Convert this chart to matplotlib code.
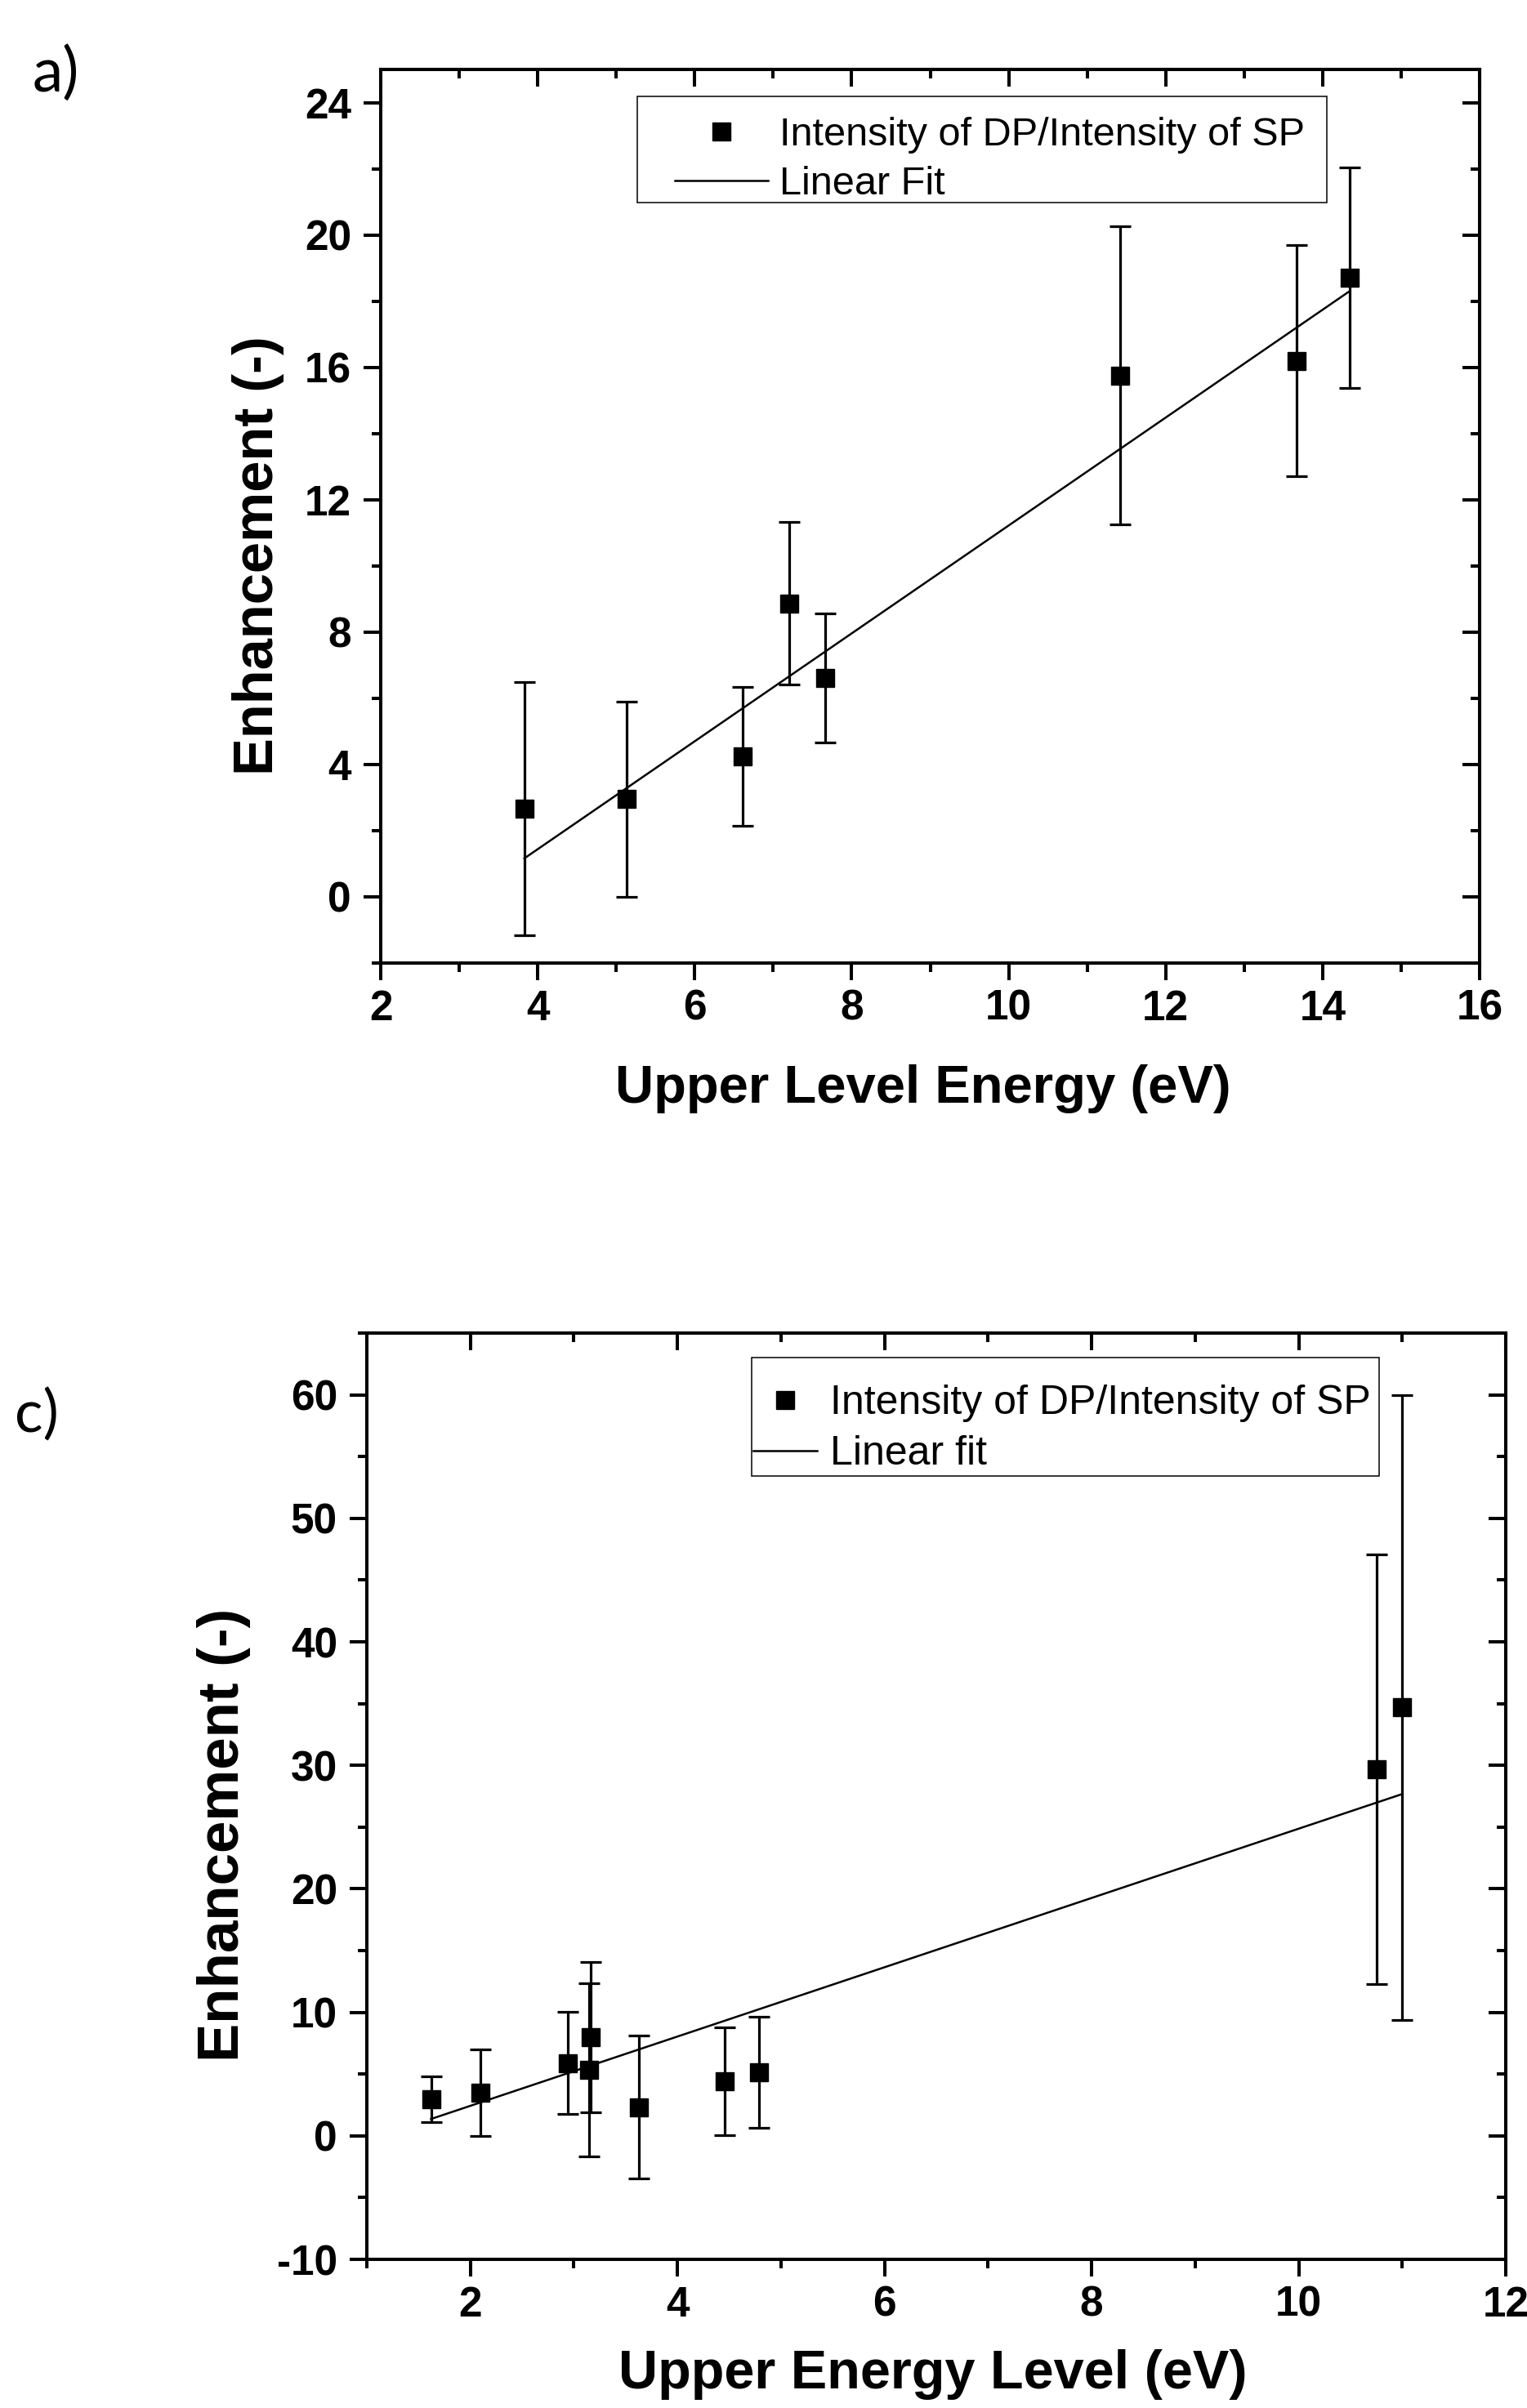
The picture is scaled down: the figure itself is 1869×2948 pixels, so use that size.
import matplotlib
matplotlib.use('Agg')
import matplotlib.pyplot as plt
from matplotlib.patches import Rectangle
from matplotlib.ticker import MultipleLocator, NullFormatter

# ------------Data: panel a)---------------------------------------
energy_a = [3.83, 5.13, 6.61, 7.20, 7.66, 11.42, 13.67, 14.35]
enh_a = [2.67, 2.95, 4.25, 8.87, 6.62, 15.75, 16.20, 18.70]
err_a = [3.82, 2.95, 2.10, 2.45, 1.95, 4.50, 3.50, 3.33]
fit_a = (1.63, -5.08)   # slope, intercept

# ------------Data: panel c)---------------------------------------
energy_c = [1.62, 2.10, 2.94, 3.15, 3.16, 3.63, 4.46, 4.79, 10.75, 11.00]
enh_c = [2.95, 3.47, 5.90, 5.34, 8.00, 2.33, 4.43, 5.17, 29.70, 34.70]
err_c = [1.85, 3.50, 4.15, 7.00, 6.10, 5.80, 4.35, 4.50, 17.40, 25.30]
fit_c = (2.805, -3.18)

plt.rcParams['font.family'] = ['Liberation Sans', 'DejaVu Sans']
plt.rcParams['axes.unicode_minus'] = False

W, H = 1869, 2948
fig = plt.figure(figsize=(W / 100, H / 100), dpi=100)


def make_axes(left, top, right, bottom):
    return fig.add_axes([left / W, 1 - bottom / H, (right - left) / W, (bottom - top) / H])


def style_axes(ax, xlim, ylim, xmaj, ymaj):
    ax.set_xlim(*xlim)
    ax.set_ylim(*ylim)
    for sp in ax.spines.values():
        sp.set_linewidth(2.9)
    ax.xaxis.set_major_locator(MultipleLocator(xmaj))
    ax.xaxis.set_minor_locator(MultipleLocator(xmaj / 2))
    ax.yaxis.set_major_locator(MultipleLocator(ymaj))
    ax.yaxis.set_minor_locator(MultipleLocator(ymaj / 2))
    ax.tick_params(which='major', direction='out', length=15, width=2.9)
    ax.tick_params(which='minor', direction='out', length=8, width=2.9)
    ax.tick_params(axis='x', pad=8)
    ax.tick_params(axis='y', pad=11)
    for lab in ax.get_xticklabels() + ax.get_yticklabels():
        lab.set_fontsize(37)
        lab.set_fontweight('bold')

    # ticks pointing inward on top and right side
    top = ax.secondary_xaxis('top')
    top.xaxis.set_major_locator(MultipleLocator(xmaj))
    top.xaxis.set_minor_locator(MultipleLocator(xmaj / 2))
    top.xaxis.set_major_formatter(NullFormatter())
    top.tick_params(which='major', direction='in', length=15, width=2.9)
    top.tick_params(which='minor', direction='in', length=8, width=2.9)
    top.spines['top'].set_linewidth(2.9)
    right = ax.secondary_yaxis('right')
    right.yaxis.set_major_locator(MultipleLocator(ymaj))
    right.yaxis.set_minor_locator(MultipleLocator(ymaj / 2))
    right.yaxis.set_major_formatter(NullFormatter())
    right.tick_params(which='major', direction='in', length=15, width=2.9)
    right.tick_params(which='minor', direction='in', length=8, width=2.9)
    right.spines['right'].set_linewidth(2.9)


def draw_panel(ax, x, y, err, fit, marker_label, fit_label):
    ax.errorbar(x, y, yerr=err, fmt='none', ecolor='black', elinewidth=2.3,
                capsize=9.5, capthick=2.3, zorder=2)
    ax.plot(x, y, 's', color='black', markersize=16, label=marker_label, zorder=3)
    xs = [min(x), max(x)]
    ax.plot(xs, [fit[0] * v + fit[1] for v in xs], '-', color='black',
            linewidth=1.8, label=fit_label, zorder=2)


def legend_box(ax, anchor, box, fontsize, handlelength, handletextpad, labelspacing):
    ax.legend(loc='center left', bbox_to_anchor=anchor, borderaxespad=0,
              borderpad=0, fontsize=fontsize, frameon=False,
              handlelength=handlelength, handletextpad=handletextpad,
              labelspacing=labelspacing, numpoints=1)
    ax.add_patch(Rectangle(box[:2], box[2], box[3], transform=ax.transAxes,
                           fill=False, edgecolor='black', linewidth=1.1,
                           clip_on=False, zorder=5))


# ------------Panel a)---------------------------------------------
ax1 = make_axes(466, 85, 1811, 1179)
draw_panel(ax1, energy_a, enh_a, err_a, fit_a,
           'Intensity of DP/Intensity of SP', 'Linear Fit')
style_axes(ax1, (2, 16), (-2, 25), 2, 4)
ax1.set_xlabel('Upper Level Energy (eV)', fontsize=47, fontweight='bold')
ax1.set_ylabel('Enhancement (-)', fontsize=49.5, fontweight='bold')
ax1.xaxis.set_label_coords(0.4937, -0.113)
ax1.yaxis.set_label_coords(-0.0877, 0.456)
legend_box(ax1, (0.2677, 0.899), (0.2335, 0.851, 0.6275, 0.1188),
           35, 2.35, 0.29, 0.29)

# ------------Panel c)---------------------------------------------
ax2 = make_axes(449, 1632, 1843, 2766)
draw_panel(ax2, energy_c, enh_c, err_c, fit_c,
           'Intensity of DP/Intensity of SP', 'Linear fit')
style_axes(ax2, (1, 12), (-10, 65), 2, 10)
ax2.set_xlabel('Upper Energy Level (eV)', fontsize=48, fontweight='bold')
ax2.set_ylabel('Enhancement (-)', fontsize=51, fontweight='bold')
ax2.xaxis.set_label_coords(0.497, -0.097)
ax2.yaxis.set_label_coords(-0.1019, 0.458)
legend_box(ax2, (0.3393, 0.8965), (0.3379, 0.8457, 0.5509, 0.1279),
           36, 1.56, 0.32, 0.32)

# ------------Panel letters----------------------------------------
fig.text(40 / W, 1 - 112 / H, 'a)', fontsize=54, family=['Lato', 'DejaVu Sans'], va='baseline')
fig.text(18 / W, 1 - 1753 / H, 'c)', fontsize=52, family=['Lato', 'DejaVu Sans'], va='baseline')

fig.savefig('out.png', dpi=100)
